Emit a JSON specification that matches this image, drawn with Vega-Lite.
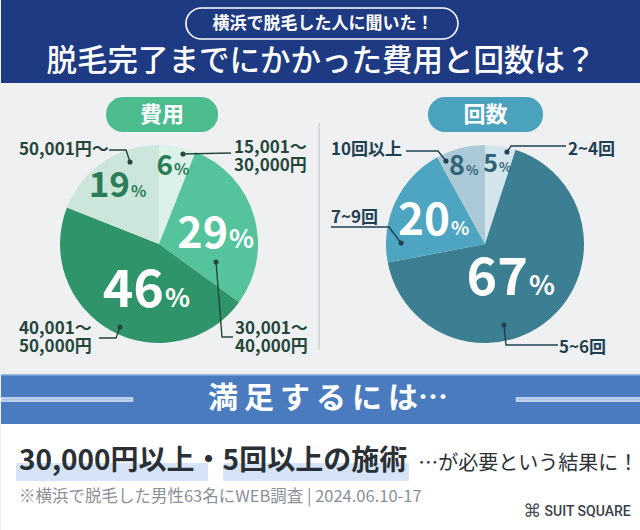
{
  "$schema": "https://vega.github.io/schema/vega-lite/v6.json",
  "padding": 0,
  "background": "#eef0f2",
  "spacing": 0,
  "config": {"view": {"stroke": null}, "text": {"font": "Noto Sans CJK JP"}, "concat": {"spacing": 0}},
  "vconcat": [
    {
      "width": 640, "height": 83,
      "view": {"fill": "#1e3a82", "stroke": null},
      "data": {"values": [{}]},
      "layer": [
        {"mark": {"type": "rect", "fill": "#1e3a82", "stroke": "#ffffff", "strokeWidth": 1.6, "cornerRadius": 15.5},
         "encoding": {
           "x": {"datum": 0.289, "type": "quantitative", "scale": {"domain": [0, 1], "nice": false, "zero": false}, "axis": null},
           "x2": {"datum": 0.714},
           "y": {"datum": 0.096, "type": "quantitative", "scale": {"domain": [0, 1], "reverse": true, "nice": false, "zero": false}, "axis": null},
           "y2": {"datum": 0.47}}},
        {"mark": {"type": "text", "text": "横浜で脱毛した人に聞いた！", "fontSize": 17, "fontWeight": "bold", "color": "#ffffff", "align": "center", "baseline": "middle"},
         "encoding": {
           "x": {"datum": 0.503, "type": "quantitative", "scale": {"domain": [0, 1], "nice": false, "zero": false}, "axis": null},
           "y": {"datum": 0.289, "type": "quantitative", "scale": {"domain": [0, 1], "reverse": true, "nice": false, "zero": false}, "axis": null}}},
        {"mark": {"type": "text", "text": "脱毛完了までにかかった費用と回数は？", "fontSize": 30.5, "fontWeight": 500, "color": "#ffffff", "align": "center", "baseline": "middle"},
         "encoding": {
           "x": {"datum": 0.5, "type": "quantitative", "scale": {"domain": [0, 1], "nice": false, "zero": false}, "axis": null},
           "y": {"datum": 0.747, "type": "quantitative", "scale": {"domain": [0, 1], "reverse": true, "nice": false, "zero": false}, "axis": null}}}
      ]
    },
    {
      "spacing": 0,
      "resolve": {"scale": {"color": "independent", "size": "independent"}},
      "hconcat": [
        {
          "width": 319, "height": 291,
          "layer": [
            {"data": {"values": [{}]},
             "mark": {"type": "rule", "color": "#cfd3d8", "strokeWidth": 1.5},
             "encoding": {
               "x": {"datum": 1.618, "type": "quantitative", "scale": {"domain": [-1.596, 1.626], "nice": false, "zero": false}, "axis": null},
               "y": {"datum": 1.222, "type": "quantitative", "scale": {"domain": [-1.313, 1.626], "nice": false, "zero": false}, "axis": null},
               "y2": {"datum": -1.071}}},
            {"data": {"values": [{}]},
             "mark": {"type": "rect", "fill": "#4cbc8e", "cornerRadius": 17},
             "encoding": {
               "x": {"datum": -0.535, "type": "quantitative", "scale": {"domain": [-1.596, 1.626], "nice": false, "zero": false}, "axis": null},
               "x2": {"datum": 0.596},
               "y": {"datum": 1.485, "type": "quantitative", "scale": {"domain": [-1.313, 1.626], "nice": false, "zero": false}, "axis": null},
               "y2": {"datum": 1.131}}},
            {"data": {"values": [{"title": "費用"}]},
             "mark": {"type": "text", "fontSize": 22, "fontWeight": "bold", "color": "#ffffff", "align": "center", "baseline": "middle"},
             "encoding": {
               "text": {"field": "title"},
               "x": {"datum": 0.03, "type": "quantitative", "scale": {"domain": [-1.596, 1.626], "nice": false, "zero": false}, "axis": null},
               "y": {"datum": 1.303, "type": "quantitative", "scale": {"domain": [-1.313, 1.626], "nice": false, "zero": false}, "axis": null}}},
            {"data": {"name": "cost"},
             "mark": {"type": "arc", "outerRadius": 99},
             "encoding": {
               "x": {"datum": 0, "type": "quantitative", "scale": {"domain": [-1.596, 1.626], "nice": false, "zero": false}, "axis": null},
               "y": {"datum": 0, "type": "quantitative", "scale": {"domain": [-1.313, 1.626], "nice": false, "zero": false}, "axis": null},
               "theta": {"field": "pct", "type": "quantitative", "stack": true},
               "order": {"field": "order", "type": "quantitative"},
               "color": {"field": "cat", "type": "nominal", "legend": null,
                 "scale": {"domain": ["15,001～30,000円", "30,001～40,000円", "40,001～50,000円", "50,001円～"], "range": ["#dcf1e8", "#55c39b", "#2f9469", "#cde6db"]}}}},
            {"data": {"name": "costLeaders"},
             "mark": {"type": "line", "color": "#25463a", "strokeWidth": 1.4},
             "encoding": {
               "x": {"field": "x", "type": "quantitative", "scale": {"domain": [-1.596, 1.626], "nice": false, "zero": false}, "axis": null},
               "y": {"field": "y", "type": "quantitative", "scale": {"domain": [-1.313, 1.626], "nice": false, "zero": false}, "axis": null},
               "detail": {"field": "id"},
               "order": {"field": "s", "type": "quantitative"}}},
            {"data": {"name": "costLeaders"},
             "transform": [{"filter": "datum.s == 1"}],
             "mark": {"type": "circle", "color": "#25463a", "size": 26, "opacity": 1},
             "encoding": {
               "x": {"field": "x", "type": "quantitative", "scale": {"domain": [-1.596, 1.626], "nice": false, "zero": false}, "axis": null},
               "y": {"field": "y", "type": "quantitative", "scale": {"domain": [-1.313, 1.626], "nice": false, "zero": false}, "axis": null}}},
            {"data": {"name": "costLabels"},
             "mark": {"type": "text", "fontSize": 17, "fontWeight": "bold", "color": "#25463a", "align": "left", "baseline": "alphabetic", "lineBreak": "\n", "lineHeight": 18},
             "encoding": {
               "text": {"field": "label"},
               "x": {"field": "lx", "type": "quantitative", "scale": {"domain": [-1.596, 1.626], "nice": false, "zero": false}, "axis": null},
               "y": {"field": "ly", "type": "quantitative", "scale": {"domain": [-1.313, 1.626], "nice": false, "zero": false}, "axis": null}}},
            {"data": {"name": "cost"},
             "mark": {"type": "text", "fontWeight": "bold", "align": "right", "baseline": "alphabetic"},
             "encoding": {
               "text": {"field": "pct", "type": "quantitative"},
               "x": {"field": "lx", "type": "quantitative", "scale": {"domain": [-1.596, 1.626], "nice": false, "zero": false}, "axis": null},
               "y": {"field": "ly", "type": "quantitative", "scale": {"domain": [-1.313, 1.626], "nice": false, "zero": false}, "axis": null},
               "size": {"field": "pct", "type": "quantitative", "legend": null, "scale": {"type": "linear", "domain": [6, 19, 29, 46], "range": [28, 35, 43, 52], "zero": false, "nice": false}},
               "color": {"condition": {"test": "datum.pct >= 25", "value": "#ffffff"}, "value": "#2b7d58"}}},
            {"data": {"name": "cost"},
             "mark": {"type": "text", "text": "%", "fontWeight": "bold", "align": "left", "baseline": "alphabetic", "dx": 1},
             "encoding": {
               "x": {"field": "lx", "type": "quantitative", "scale": {"domain": [-1.596, 1.626], "nice": false, "zero": false}, "axis": null},
               "y": {"field": "ly", "type": "quantitative", "scale": {"domain": [-1.313, 1.626], "nice": false, "zero": false}, "axis": null},
               "size": {"condition": {"test": "datum.pct >= 25", "value": 26}, "value": 16},
               "color": {"condition": {"test": "datum.pct >= 25", "value": "#ffffff"}, "value": "#2b7d58"}}}
          ]
        },
        {
          "width": 321, "height": 291,
          "layer": [
            {"data": {"values": [{}]},
             "mark": {"type": "rect", "fill": "#4aa2bc", "cornerRadius": 17},
             "encoding": {
               "x": {"datum": -0.576, "type": "quantitative", "scale": {"domain": [-1.667, 1.576], "nice": false, "zero": false}, "axis": null},
               "x2": {"datum": 0.586},
               "y": {"datum": 1.485, "type": "quantitative", "scale": {"domain": [-1.313, 1.626], "nice": false, "zero": false}, "axis": null},
               "y2": {"datum": 1.131}}},
            {"data": {"values": [{"title": "回数"}]},
             "mark": {"type": "text", "fontSize": 22, "fontWeight": "bold", "color": "#ffffff", "align": "center", "baseline": "middle"},
             "encoding": {
               "text": {"field": "title"},
               "x": {"datum": 0.005, "type": "quantitative", "scale": {"domain": [-1.667, 1.576], "nice": false, "zero": false}, "axis": null},
               "y": {"datum": 1.303, "type": "quantitative", "scale": {"domain": [-1.313, 1.626], "nice": false, "zero": false}, "axis": null}}},
            {"data": {"name": "times"},
             "mark": {"type": "arc", "outerRadius": 99},
             "encoding": {
               "x": {"datum": 0, "type": "quantitative", "scale": {"domain": [-1.667, 1.576], "nice": false, "zero": false}, "axis": null},
               "y": {"datum": 0, "type": "quantitative", "scale": {"domain": [-1.313, 1.626], "nice": false, "zero": false}, "axis": null},
               "theta": {"field": "pct", "type": "quantitative", "stack": true},
               "order": {"field": "order", "type": "quantitative"},
               "color": {"field": "cat", "type": "nominal", "legend": null,
                 "scale": {"domain": ["2~4回", "5~6回", "7~9回", "10回以上"], "range": ["#d3e4eb", "#3c7e92", "#4ea5c1", "#abc9d6"]}}}},
            {"data": {"name": "timesLeaders"},
             "mark": {"type": "line", "color": "#1f4050", "strokeWidth": 1.4},
             "encoding": {
               "x": {"field": "x", "type": "quantitative", "scale": {"domain": [-1.667, 1.576], "nice": false, "zero": false}, "axis": null},
               "y": {"field": "y", "type": "quantitative", "scale": {"domain": [-1.313, 1.626], "nice": false, "zero": false}, "axis": null},
               "detail": {"field": "id"},
               "order": {"field": "s", "type": "quantitative"}}},
            {"data": {"name": "timesLeaders"},
             "transform": [{"filter": "datum.s == 1"}],
             "mark": {"type": "circle", "color": "#1f4050", "size": 26, "opacity": 1},
             "encoding": {
               "x": {"field": "x", "type": "quantitative", "scale": {"domain": [-1.667, 1.576], "nice": false, "zero": false}, "axis": null},
               "y": {"field": "y", "type": "quantitative", "scale": {"domain": [-1.313, 1.626], "nice": false, "zero": false}, "axis": null}}},
            {"data": {"name": "timesLabels"},
             "mark": {"type": "text", "fontSize": 17, "fontWeight": "bold", "color": "#1f4050", "align": "left", "baseline": "alphabetic"},
             "encoding": {
               "text": {"field": "label"},
               "x": {"field": "lx", "type": "quantitative", "scale": {"domain": [-1.667, 1.576], "nice": false, "zero": false}, "axis": null},
               "y": {"field": "ly", "type": "quantitative", "scale": {"domain": [-1.313, 1.626], "nice": false, "zero": false}, "axis": null}}},
            {"data": {"name": "times"},
             "mark": {"type": "text", "fontWeight": "bold", "align": "right", "baseline": "alphabetic"},
             "encoding": {
               "text": {"field": "pct", "type": "quantitative"},
               "x": {"field": "lx", "type": "quantitative", "scale": {"domain": [-1.667, 1.576], "nice": false, "zero": false}, "axis": null},
               "y": {"field": "ly", "type": "quantitative", "scale": {"domain": [-1.313, 1.626], "nice": false, "zero": false}, "axis": null},
               "size": {"field": "pct", "type": "quantitative", "legend": null, "scale": {"type": "linear", "domain": [5, 8, 20, 67], "range": [25, 27, 44, 52], "zero": false, "nice": false}},
               "color": {"condition": {"test": "datum.pct >= 15", "value": "#ffffff"}, "value": "#2f6479"}}},
            {"data": {"name": "times"},
             "mark": {"type": "text", "text": "%", "fontWeight": "bold", "align": "left", "baseline": "alphabetic", "dx": 1},
             "encoding": {
               "x": {"field": "lx", "type": "quantitative", "scale": {"domain": [-1.667, 1.576], "nice": false, "zero": false}, "axis": null},
               "y": {"field": "ly", "type": "quantitative", "scale": {"domain": [-1.313, 1.626], "nice": false, "zero": false}, "axis": null},
               "size": {"condition": [{"test": "datum.pct >= 60", "value": 27}, {"test": "datum.pct >= 15", "value": 19}], "value": 13},
               "color": {"condition": {"test": "datum.pct >= 15", "value": "#ffffff"}, "value": "#2f6479"}}}
          ]
        }
      ]
    },
    {
      "width": 640, "height": 50,
      "view": {"fill": "#4a7bbf", "stroke": null},
      "data": {"values": [{}]},
      "layer": [
        {"mark": {"type": "rule", "color": "#9dbbe0", "strokeWidth": 1.5},
         "encoding": {
           "x": {"datum": 0, "type": "quantitative", "scale": {"domain": [0, 1], "nice": false, "zero": false}, "axis": null},
           "x2": {"datum": 1},
           "y": {"datum": 0.015, "type": "quantitative", "scale": {"domain": [0, 1], "reverse": true, "nice": false, "zero": false}, "axis": null}}},
        {"mark": {"type": "rect", "fill": "#a9c3e6", "stroke": "#ffffff", "strokeWidth": 0.8},
         "encoding": {
           "x": {"datum": 0, "type": "quantitative", "scale": {"domain": [0, 1], "nice": false, "zero": false}, "axis": null},
           "x2": {"datum": 0.206},
           "y": {"datum": 0.475, "type": "quantitative", "scale": {"domain": [0, 1], "reverse": true, "nice": false, "zero": false}, "axis": null},
           "y2": {"datum": 0.545}}},
        {"mark": {"type": "rect", "fill": "#a9c3e6", "stroke": "#ffffff", "strokeWidth": 0.8},
         "encoding": {
           "x": {"datum": 0.805, "type": "quantitative", "scale": {"domain": [0, 1], "nice": false, "zero": false}, "axis": null},
           "x2": {"datum": 1},
           "y": {"datum": 0.475, "type": "quantitative", "scale": {"domain": [0, 1], "reverse": true, "nice": false, "zero": false}, "axis": null},
           "y2": {"datum": 0.545}}},
        {"mark": {"type": "text", "text": "満\u2009足\u2009す\u2009る\u2009に\u2009は…", "fontSize": 30, "fontWeight": "bold", "color": "#ffffff", "align": "center", "baseline": "middle"},
         "encoding": {
           "x": {"datum": 0.511, "type": "quantitative", "scale": {"domain": [0, 1], "nice": false, "zero": false}, "axis": null},
           "y": {"datum": 0.5, "type": "quantitative", "scale": {"domain": [0, 1], "reverse": true, "nice": false, "zero": false}, "axis": null}}}
      ]
    },
    {
      "width": 640, "height": 106,
      "view": {"fill": "#ffffff", "stroke": null},
      "data": {"values": [{}]},
      "layer": [
        {"mark": {"type": "rect", "fill": "#d5e4f6"},
         "encoding": {
           "x": {"datum": 0.0234, "type": "quantitative", "scale": {"domain": [0, 1], "nice": false, "zero": false}, "axis": null},
           "x2": {"datum": 0.3234},
           "y": {"datum": 0.368, "type": "quantitative", "scale": {"domain": [0, 1], "reverse": true, "nice": false, "zero": false}, "axis": null},
           "y2": {"datum": 0.538}}},
        {"mark": {"type": "rect", "fill": "#d5e4f6"},
         "encoding": {
           "x": {"datum": 0.3469, "type": "quantitative", "scale": {"domain": [0, 1], "nice": false, "zero": false}, "axis": null},
           "x2": {"datum": 0.6375},
           "y": {"datum": 0.368, "type": "quantitative", "scale": {"domain": [0, 1], "reverse": true, "nice": false, "zero": false}, "axis": null},
           "y2": {"datum": 0.538}}},
        {"mark": {"type": "text", "text": "30,000円以上・5回以上の施術", "fontSize": 28, "fontWeight": "bold", "color": "#2b3036", "align": "left", "baseline": "alphabetic"},
         "encoding": {
           "x": {"datum": 0.028, "type": "quantitative", "scale": {"domain": [0, 1], "nice": false, "zero": false}, "axis": null},
           "y": {"datum": 0.434, "type": "quantitative", "scale": {"domain": [0, 1], "reverse": true, "nice": false, "zero": false}, "axis": null}}},
        {"mark": {"type": "text", "text": "…が必要という結果に！", "fontSize": 20, "color": "#2b3036", "align": "left", "baseline": "alphabetic"},
         "encoding": {
           "x": {"datum": 0.652, "type": "quantitative", "scale": {"domain": [0, 1], "nice": false, "zero": false}, "axis": null},
           "y": {"datum": 0.434, "type": "quantitative", "scale": {"domain": [0, 1], "reverse": true, "nice": false, "zero": false}, "axis": null}}},
        {"mark": {"type": "text", "text": "※横浜で脱毛した男性63名にWEB調査 | 2024.06.10-17", "fontSize": 16.5, "color": "#8c9096", "align": "left", "baseline": "alphabetic"},
         "encoding": {
           "x": {"datum": 0.028, "type": "quantitative", "scale": {"domain": [0, 1], "nice": false, "zero": false}, "axis": null},
           "y": {"datum": 0.736, "type": "quantitative", "scale": {"domain": [0, 1], "reverse": true, "nice": false, "zero": false}, "axis": null}}},
        {"mark": {"type": "text", "text": "SUIT SQUARE", "font": "Roboto", "fontSize": 14, "fontWeight": 500, "color": "#3b4047", "align": "right", "baseline": "middle"},
         "encoding": {
           "x": {"datum": 0.984, "type": "quantitative", "scale": {"domain": [0, 1], "nice": false, "zero": false}, "axis": null},
           "y": {"datum": 0.83, "type": "quantitative", "scale": {"domain": [0, 1], "reverse": true, "nice": false, "zero": false}, "axis": null}}},
        {"mark": {"type": "text", "text": "⌘", "font": "DejaVu Sans", "fontSize": 18, "color": "#4a4f56", "align": "center", "baseline": "middle"},
         "encoding": {
           "x": {"datum": 0.83, "type": "quantitative", "scale": {"domain": [0, 1], "nice": false, "zero": false}, "axis": null},
           "y": {"datum": 0.83, "type": "quantitative", "scale": {"domain": [0, 1], "reverse": true, "nice": false, "zero": false}, "axis": null}}}
      ]
    }
  ],
  "datasets": {
    "cost": [
      {"cat": "15,001～30,000円", "pct": 6, "order": 1, "lx": 0.141, "ly": 0.697},
      {"cat": "30,001～40,000円", "pct": 29, "order": 2, "lx": 0.697, "ly": -0.04},
      {"cat": "40,001～50,000円", "pct": 46, "order": 3, "lx": 0.051, "ly": -0.636},
      {"cat": "50,001円～", "pct": 19, "order": 4, "lx": -0.293, "ly": 0.475}
    ],
    "costLabels": [
      {"label": "50,001円～", "lx": -1.414, "ly": 0.899},
      {"label": "15,001～\n30,000円", "lx": 0.758, "ly": 0.919},
      {"label": "30,001～\n40,000円", "lx": 0.768, "ly": -0.909},
      {"label": "40,001～\n50,000円", "lx": -1.414, "ly": -0.909}
    ],
    "costLeaders": [
      {"id": "A", "s": 1, "x": -0.293, "y": 0.828},
      {"id": "A", "s": 2, "x": -0.333, "y": 0.949},
      {"id": "A", "s": 3, "x": -0.505, "y": 0.949},
      {"id": "B", "s": 1, "x": 0.242, "y": 0.909},
      {"id": "B", "s": 2, "x": 0.727, "y": 0.919},
      {"id": "C", "s": 1, "x": 0.576, "y": -0.182},
      {"id": "C", "s": 2, "x": 0.636, "y": -0.939},
      {"id": "C", "s": 3, "x": 0.747, "y": -0.939},
      {"id": "D", "s": 1, "x": -0.394, "y": -0.838},
      {"id": "D", "s": 2, "x": -0.434, "y": -0.949},
      {"id": "D", "s": 3, "x": -0.606, "y": -0.949}
    ],
    "times": [
      {"cat": "2~4回", "pct": 5, "order": 1, "lx": 0.131, "ly": 0.727},
      {"cat": "5~6回", "pct": 67, "order": 2, "lx": 0.434, "ly": -0.515},
      {"cat": "7~9回", "pct": 20, "order": 3, "lx": -0.354, "ly": 0.091},
      {"cat": "10回以上", "pct": 8, "order": 4, "lx": -0.202, "ly": 0.697}
    ],
    "timesLabels": [
      {"label": "10回以上", "lx": -1.556, "ly": 0.899},
      {"label": "2~4回", "lx": 0.838, "ly": 0.899},
      {"label": "7~9回", "lx": -1.556, "ly": 0.212},
      {"label": "5~6回", "lx": 0.747, "ly": -1.101}
    ],
    "timesLeaders": [
      {"id": "E", "s": 1, "x": -0.394, "y": 0.838},
      {"id": "E", "s": 2, "x": -0.475, "y": 0.939},
      {"id": "E", "s": 3, "x": -0.798, "y": 0.939},
      {"id": "F", "s": 1, "x": 0.222, "y": 0.929},
      {"id": "F", "s": 2, "x": 0.263, "y": 0.99},
      {"id": "F", "s": 3, "x": 0.818, "y": 0.99},
      {"id": "G", "s": 1, "x": -0.848, "y": 0.01},
      {"id": "G", "s": 2, "x": -0.97, "y": 0.172},
      {"id": "G", "s": 3, "x": -1.556, "y": 0.172},
      {"id": "H", "s": 1, "x": 0.192, "y": -0.818},
      {"id": "H", "s": 2, "x": 0.212, "y": -1.02},
      {"id": "H", "s": 3, "x": 0.737, "y": -1.02}
    ]
  }
}
